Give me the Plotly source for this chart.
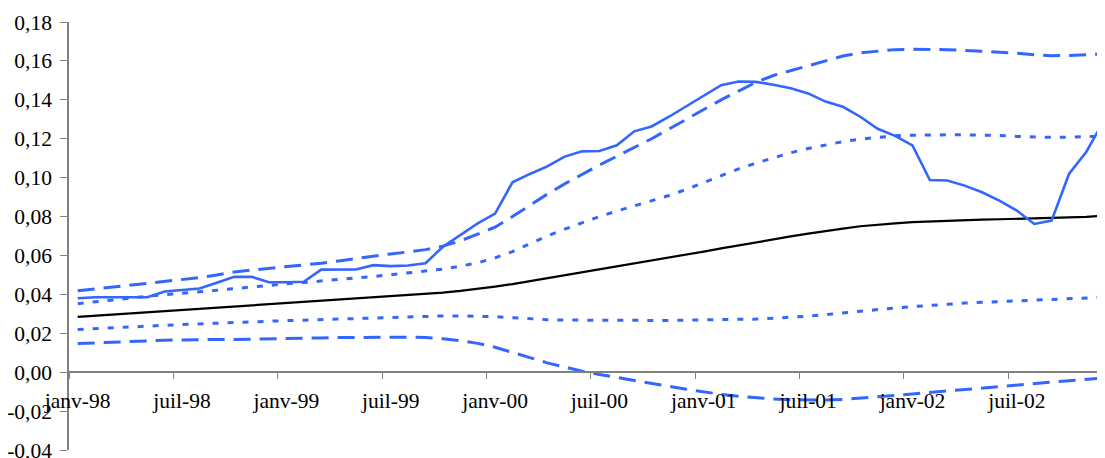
import plotly.graph_objects as go

months = list(range(60))  # janv-98 .. déc-02

central = [0.0284, 0.0290, 0.0296, 0.0302, 0.0308, 0.0314, 0.0320, 0.0326, 0.0332, 0.0338,
           0.0344, 0.0350, 0.0356, 0.0362, 0.0367, 0.0372, 0.0377, 0.0383, 0.0390, 0.0396,
           0.0402, 0.0409, 0.0418, 0.0428, 0.0440, 0.0453, 0.0468, 0.0482, 0.0497, 0.0512,
           0.0527, 0.0542, 0.0557, 0.0573, 0.0589, 0.0605, 0.0620, 0.0636, 0.0652, 0.0667,
           0.0683, 0.0698, 0.0712, 0.0726, 0.0738, 0.0750, 0.0759, 0.0765, 0.0771, 0.0775,
           0.0778, 0.0781, 0.0784, 0.0786, 0.0788, 0.0789, 0.0791, 0.0794, 0.0798, 0.0805]

observed = [0.0380, 0.0385, 0.0385, 0.0385, 0.0385, 0.0415, 0.0422, 0.0430, 0.0460, 0.0490,
            0.0490, 0.0462, 0.0462, 0.0465, 0.0527, 0.0527, 0.0528, 0.0550, 0.0545, 0.0548,
            0.0560, 0.0645, 0.0705, 0.0765, 0.0815, 0.0976, 0.1019, 0.1058, 0.1108, 0.1135,
            0.1137, 0.1166, 0.1238, 0.1263, 0.1313, 0.1368, 0.1419, 0.1475, 0.1494, 0.1492,
            0.1477, 0.1460, 0.1433, 0.1391, 0.1364, 0.1313, 0.1251, 0.1215, 0.1166, 0.0988,
            0.0985, 0.0959, 0.0925, 0.0882, 0.0831, 0.0762, 0.0779, 0.1019, 0.1133, 0.1292]

upper_dash = [0.0418, 0.0428, 0.0437, 0.0446, 0.0455, 0.0464, 0.0475, 0.0486, 0.0500, 0.0515,
              0.0525, 0.0533, 0.0541, 0.0549, 0.0560, 0.0572, 0.0585, 0.0597, 0.0608, 0.0618,
              0.0630, 0.0648, 0.0675, 0.0710, 0.0745, 0.0800, 0.0858, 0.0915, 0.0968, 0.1018,
              0.1065, 0.1110, 0.1155, 0.1200, 0.1250, 0.1300, 0.1350, 0.1400, 0.1445, 0.1490,
              0.1525, 0.1550, 0.1575, 0.1600, 0.1625, 0.1642, 0.1650, 0.1658, 0.1660, 0.1660,
              0.1658, 0.1654, 0.1650, 0.1645, 0.1640, 0.1632, 0.1627, 0.1628, 0.1633, 0.1636]

upper_dot = [0.0352, 0.0362, 0.0373, 0.0383, 0.0390, 0.0398, 0.0405, 0.0412, 0.0420, 0.0429,
             0.0438, 0.0447, 0.0454, 0.0461, 0.0468, 0.0475, 0.0483, 0.0492, 0.0501, 0.0510,
             0.0519, 0.0530, 0.0545, 0.0562, 0.0588, 0.0620, 0.0660, 0.0700, 0.0735, 0.0768,
             0.0800, 0.0828, 0.0855, 0.0880, 0.0908, 0.0940, 0.0975, 0.1010, 0.1045, 0.1075,
             0.1103, 0.1128, 0.1150, 0.1168, 0.1185, 0.1198, 0.1208, 0.1215, 0.1218, 0.1220,
             0.1220, 0.1220, 0.1219, 0.1217, 0.1212, 0.1208, 0.1207, 0.1208, 0.1211, 0.1213]

lower_dot = [0.0219, 0.0224, 0.0229, 0.0233, 0.0237, 0.0241, 0.0245, 0.0249, 0.0253, 0.0256,
             0.0259, 0.0262, 0.0265, 0.0268, 0.0271, 0.0274, 0.0277, 0.0280, 0.0283, 0.0285,
             0.0287, 0.0289, 0.0289, 0.0288, 0.0285, 0.0280, 0.0274, 0.0270, 0.0268, 0.0267,
             0.0266, 0.0266, 0.0266, 0.0266, 0.0266, 0.0267, 0.0268, 0.0269, 0.0271, 0.0273,
             0.0277, 0.0282, 0.0288, 0.0296, 0.0305, 0.0314, 0.0322, 0.0330, 0.0337, 0.0344,
             0.0350, 0.0355, 0.0359, 0.0363, 0.0367, 0.0371, 0.0375, 0.0378, 0.0382, 0.0385]

lower_dash = [0.0147, 0.0151, 0.0155, 0.0158, 0.0161, 0.0164, 0.0166, 0.0168, 0.0168, 0.0168,
              0.0169, 0.0170, 0.0172, 0.0174, 0.0176, 0.0178, 0.0179, 0.0180, 0.0180, 0.0180,
              0.0178, 0.0172, 0.0162, 0.0148, 0.0128, 0.0103, 0.0075, 0.0048, 0.0025, 0.0005,
              -0.0012, -0.0028, -0.0043, -0.0058, -0.0073, -0.0088, -0.0102, -0.0114, -0.0124, -0.0132,
              -0.0138, -0.0142, -0.0144, -0.0143, -0.0140, -0.0134, -0.0127, -0.0120, -0.0112, -0.0104,
              -0.0096, -0.0088, -0.0080, -0.0072, -0.0065, -0.0058, -0.0051, -0.0044, -0.0037, -0.0030]

x_label_pos = [0, 6, 12, 18, 24, 30, 36, 42, 48, 54]
x_labels = ["janv-98", "juil-98", "janv-99", "juil-99", "janv-00",
            "juil-00", "janv-01", "juil-01", "janv-02", "juil-02"]
x_tick_pos = [-0.5, 5.5, 11.5, 17.5, 23.5, 29.5, 35.5, 41.5, 47.5, 53.5]

y_vals = [-0.04, -0.02, 0.00, 0.02, 0.04, 0.06, 0.08, 0.10, 0.12, 0.14, 0.16, 0.18]
y_labels = ["-0,04", "-0,02", "0,00", "0,02", "0,04", "0,06", "0,08",
            "0,10", "0,12", "0,14", "0,16", "0,18"]

BLUE = "#3366FF"
FONT = "Liberation Serif, Times New Roman, serif"
LONG = "17px,9px"
DOT = "6px,9px"

fig = go.Figure()
fig.add_trace(go.Scatter(x=months, y=lower_dash, mode="lines",
                         line=dict(color=BLUE, width=3, dash=LONG)))
fig.add_trace(go.Scatter(x=months, y=lower_dot, mode="lines",
                         line=dict(color=BLUE, width=3, dash=DOT)))
fig.add_trace(go.Scatter(x=months, y=upper_dot, mode="lines",
                         line=dict(color=BLUE, width=3, dash=DOT)))
fig.add_trace(go.Scatter(x=months, y=upper_dash, mode="lines",
                         line=dict(color=BLUE, width=3, dash=LONG)))
fig.add_trace(go.Scatter(x=months, y=central, mode="lines",
                         line=dict(color="black", width=2.2)))
fig.add_trace(go.Scatter(x=months, y=observed, mode="lines",
                         line=dict(color=BLUE, width=2.6)))
# invisible helper trace so that the label axis is rendered
fig.add_trace(go.Scatter(x=[0], y=[None], xaxis="x2", mode="lines",
                         hoverinfo="skip", showlegend=False))

y_lo, y_hi = -0.04, 0.18
zero_frac = (0 - y_lo) / (y_hi - y_lo)
x_range = [-0.5, 59.07]

# the page body adds an 8px margin; the figure is sized so the screen matches
fig.update_layout(
    width=1097, height=450,
    margin=dict(l=61, r=0, t=14, b=8, autoexpand=False),
    paper_bgcolor="white", plot_bgcolor="white",
    showlegend=False,
    font=dict(family=FONT, size=21.5, color="black"),
    xaxis=dict(range=x_range, anchor="free", position=zero_frac,
               tickmode="array", tickvals=x_tick_pos, showticklabels=False,
               ticks="outside", ticklen=6, tickcolor="#808080", tickwidth=1,
               showline=True, linecolor="#808080", linewidth=1.5,
               showgrid=False, zeroline=False),
    xaxis2=dict(range=x_range, overlaying="x", anchor="free", position=zero_frac,
                side="bottom", tickmode="array", tickvals=x_label_pos, ticktext=x_labels,
                ticks="", showline=False, showgrid=False, zeroline=False,
                ticklabelstandoff=13, ticklabeloverflow="allow",
                tickfont=dict(family=FONT, size=21.5, color="black")),
    yaxis=dict(range=[y_lo, y_hi], tickmode="array", tickvals=y_vals, ticktext=y_labels,
               ticks="outside", ticklen=7, tickcolor="#808080", tickwidth=1,
               showline=True, linecolor="#808080", linewidth=1.5,
               showgrid=False, zeroline=False, ticklabelstandoff=4,
               ticklabeloverflow="allow",
               tickfont=dict(family=FONT, size=21.5, color="black")),
)

fig.write_html("out.html")
